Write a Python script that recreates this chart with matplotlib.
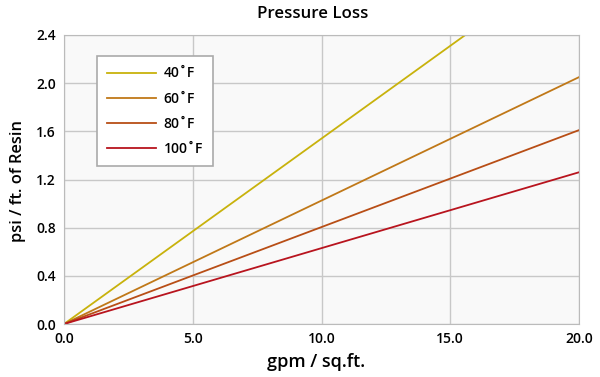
import numpy as np
import matplotlib
matplotlib.use('Agg')
import matplotlib.pyplot as plt

plt.rcParams['font.family'] = ['Open Sans', 'DejaVu Sans']

flow = [0.0, 20.0]
loss_40 = [0.0, 3.08]
loss_60 = [0.0, 2.05]
loss_80 = [0.0, 1.61]
loss_100 = [0.0, 1.26]
labels = ['40˚F', '60˚F', '80˚F', '100˚F']
colors = ['#c8b20c', '#c07818', '#b84e16', '#b8141e']

fig = plt.figure(figsize=(6, 3.77), dpi=100)
ax = fig.add_axes([64/600, 1-324/377, 515/600, 289/377])
ax.set_facecolor('#f9f9f9')

for y, lab, c in zip([loss_40, loss_60, loss_80, loss_100], labels, colors):
    ax.plot(flow, y, color=c, lw=1.3, label=lab)

ax.set_xlim(0, 20)
ax.set_ylim(0, 2.4)
ax.set_xticks([0, 5, 10, 15, 20])
ax.set_xticklabels(['0.0', '5.0', '10.0', '15.0', '20.0'])
ax.set_yticks([0, 0.4, 0.8, 1.2, 1.6, 2.0, 2.4])
ax.set_yticklabels(['0.0', '0.4', '0.8', '1.2', '1.6', '2.0', '2.4'])
ax.grid(True, color='#c8c8c8', lw=1)
ax.set_axisbelow(True)
for s in ax.spines.values():
    s.set_color('#bbbbbb')
ax.tick_params(length=0, labelsize=10, pad=6)
for t in ax.get_xticklabels() + ax.get_yticklabels():
    t.set_fontweight('semibold')

fig.text(18/600, 1-181/377, 'psi / ft. of Resin', fontsize=11.8, fontweight='semibold',
         ha='center', va='center', rotation=90)
fig.text(316/600, 1-362/377, 'gpm / sq.ft.', fontsize=13, fontweight='semibold',
         ha='center', va='center')
fig.text(313/600, 1-14/377, 'Pressure Loss', fontsize=12.2, fontweight='semibold',
         ha='center', va='center')

leg = ax.legend(loc='upper left', bbox_to_anchor=(33/515, 1-21/289), frameon=True,
                fancybox=False, edgecolor='#aaaaaa', facecolor='white', framealpha=1,
                fontsize=10, handlelength=3.5, handletextpad=0.55, labelspacing=0.8,
                borderpad=0.75, borderaxespad=0)
leg.get_frame().set_linewidth(1.2)
for t in leg.get_texts():
    t.set_fontweight('semibold')

fig.savefig('out.png', dpi=100)
